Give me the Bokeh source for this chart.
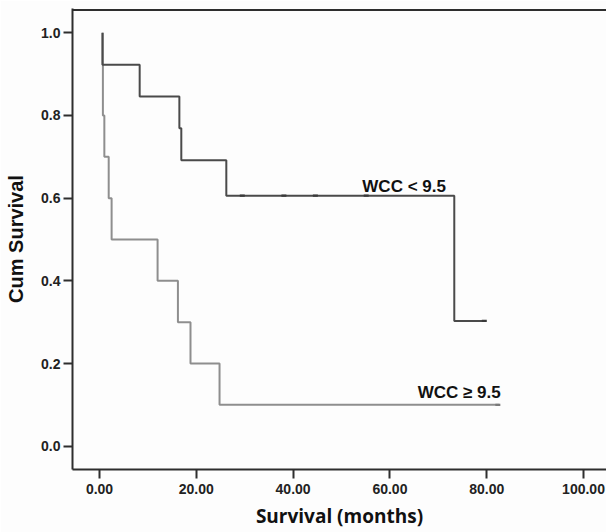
from bokeh.plotting import figure
from bokeh.models import Range1d, FixedTicker, NumeralTickFormatter, Label, Span
from bokeh.embed import file_html
from bokeh.resources import INLINE

# ---- data ----
low_label = "WCC < 9.5"
low_start = 0.6
low_event_times = [0.6, 8.3, 16.5, 16.9, 26.2, 73.3]
low_surv = [0.923, 0.846, 0.769, 0.692, 0.606, 0.303]
low_end = 79.5
low_censor_times = [29.5, 38.1, 44.6, 55.1, 79.5]

high_label = "WCC \u2265 9.5"
high_start = 0.7
high_event_times = [0.7, 1.0, 1.9, 2.5, 12.0, 16.2, 18.8, 24.8]
high_surv = [0.8, 0.7, 0.6, 0.5, 0.4, 0.3, 0.2, 0.1]
high_end = 82.6
high_censor_times = [82.3]

x_ticks = [0, 20, 40, 60, 80, 100]
y_ticks = [0.0, 0.2, 0.4, 0.6, 0.8, 1.0]

x_title = "Survival (months)"
y_title = "Cum Survival"

DARK = "#4a4a4a"
GRAY = "#8e8e8e"
AXIS = "#2e2e2e"
BG = "#fdfdfd"


def km_steps(start, times, surv, end):
    xs = [start] + list(times) + [end]
    ys = [1.0] + list(surv) + [surv[-1]]
    return xs, ys


def surv_at(t, times, surv):
    s = 1.0
    for ti, si in zip(times, surv):
        if ti <= t:
            s = si
    return s


x_start, x_end = -5.58, 104.75
y_start, y_end = -0.0564, 1.0588

p = figure(width=606, height=532, output_backend="svg", toolbar_location=None,
           x_range=Range1d(x_start, x_end), y_range=Range1d(y_start, y_end),
           min_border_left=72, min_border_right=0, min_border_top=8,
           min_border_bottom=63, background_fill_color=BG,
           border_fill_color=BG)
p.outline_line_color = None
p.grid.visible = False

for ax in (p.xaxis[0], p.yaxis[0]):
    ax.axis_line_color = AXIS
    ax.axis_line_width = 2
    ax.major_tick_line_color = AXIS
    ax.major_tick_line_width = 2
    ax.major_tick_out = 9
    ax.major_tick_in = 0
    ax.minor_tick_line_color = None
    ax.major_label_text_font = "Liberation Sans"
    ax.major_label_text_font_style = "bold"
    ax.major_label_text_font_size = "14px"
    ax.major_label_text_color = "#222222"
    ax.axis_label_text_font_style = "bold"
    ax.axis_label_text_color = "#111111"

p.xaxis.ticker = FixedTicker(ticks=x_ticks)
p.xaxis.formatter = NumeralTickFormatter(format="0.00")
p.xaxis.major_label_standoff = 5
p.xaxis.axis_label = x_title
p.xaxis.axis_label_text_font = "Open Sans"
p.xaxis.axis_label_text_font_size = "19px"
p.xaxis.axis_label_standoff = 6

p.yaxis.ticker = FixedTicker(ticks=y_ticks)
p.yaxis.formatter = NumeralTickFormatter(format="0.0")
p.yaxis.major_label_standoff = 3
p.yaxis.axis_label = y_title
p.yaxis.axis_label_text_font = "Liberation Sans"
p.yaxis.axis_label_text_font_size = "20px"
p.yaxis.axis_label_standoff = 11

# top frame line
p.add_layout(Span(location=y_end - 1.5 / 413.4, dimension="width",
                  line_color=AXIS, line_width=2))

# curves
hx, hy = km_steps(high_start, high_event_times, high_surv, high_end)
p.step(hx, hy, mode="after", line_color=GRAY, line_width=2)
lx, ly = km_steps(low_start, low_event_times, low_surv, low_end)
p.step(lx, ly, mode="after", line_color=DARK, line_width=2)

# censor marks
p.scatter(low_censor_times,
          [surv_at(t, low_event_times, low_surv) for t in low_censor_times],
          marker="dash", size=5, line_color="#3a3a3a", line_width=2.2)
p.scatter(high_censor_times,
          [surv_at(t, high_event_times, high_surv) for t in high_censor_times],
          marker="dash", size=5, line_color="#7a7a7a", line_width=2.2)

# curve labels
p.add_layout(Label(x=54.3, y=0.628, text=low_label, text_font="Liberation Sans",
                   text_font_style="bold", text_font_size="17px",
                   text_color="#111111", text_baseline="alphabetic"))
p.add_layout(Label(x=82.9, y=0.130, text=high_label, text_font="Liberation Sans",
                   text_font_style="bold", text_font_size="17px",
                   text_color="#111111", text_align="right",
                   text_baseline="alphabetic"))

open("out.html", "w").write(file_html(p, INLINE))
